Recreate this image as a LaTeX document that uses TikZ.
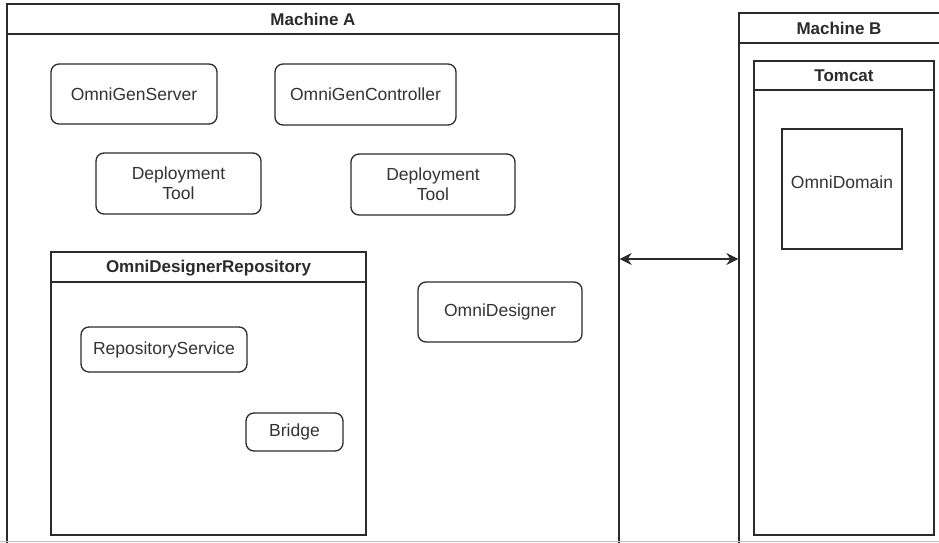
\documentclass[tikz,border=0pt]{standalone}
\usepackage{fontspec}
\setmainfont{Liberation Sans}
\usetikzlibrary{arrows.meta}
\definecolor{linec}{HTML}{2B2B2B}
\definecolor{textc}{HTML}{333333}
\tikzset{
  comp/.style={draw=linec, line width=1.3pt, rounded corners=8pt, fill=white,
    text=textc, font=\fontsize{17.5pt}{20pt}\selectfont, align=center, inner sep=0pt},
  cont/.style={draw=linec, line width=1.3pt, inner sep=0pt},
  ttl/.style={font=\bfseries\fontsize{17pt}{20pt}\selectfont, text=linec, inner sep=0pt},
  plain/.style={draw=linec, line width=1.3pt, text=textc,
    font=\fontsize{17.5pt}{20pt}\selectfont, inner sep=0pt},
}
\begin{document}
\begin{tikzpicture}[x=1pt,y=-1pt]
\useasboundingbox (0,0) rectangle (939,543);
\clip (0,0) rectangle (939,543);
\fill[white] (0,0) rectangle (939,543);
% Machine A
\node[cont, minimum width=612pt, minimum height=545pt] (ma) at (313,276.5) {};
\coordinate (mah1) at (7,34);
\coordinate (mah2) at (619,34);
\draw[linec, line width=1.3pt] (mah1) -- (mah2);
\node[ttl] (mat) at (313,19.5) {Machine A};
% Machine B
\node[cont, minimum width=210pt, minimum height=540pt] (mb) at (844,283) {};
\coordinate (mbh1) at (739,43);
\coordinate (mbh2) at (949,43);
\draw[linec, line width=1.3pt] (mbh1) -- (mbh2);
\node[ttl] (mbt) at (839,28) {Machine B};
% Tomcat
\node[cont, minimum width=180pt, minimum height=474pt] (tc) at (844,298) {};
\coordinate (tch1) at (754,90);
\coordinate (tch2) at (934,90);
\draw[linec, line width=1.3pt] (tch1) -- (tch2);
\node[ttl] (tct) at (844,76) {Tomcat};
% OmniDomain
\node[plain, minimum width=120pt, minimum height=120pt] (od) at (842,189) {};
\node[text=textc, font=\fontsize{17.5pt}{20pt}\selectfont, inner sep=0pt] (odt) at (842,182) {OmniDomain};
% Machine A contents
\node[comp, minimum width=166pt, minimum height=60pt] (ogs) at (134,94) {OmniGenServer};
\node[comp, minimum width=181pt, minimum height=61pt] (ogc) at (365.5,94.5) {OmniGenController};
\node[comp, minimum width=165pt, minimum height=61pt] (dt1) at (178.5,183.5) {Deployment\\Tool};
\node[comp, minimum width=164pt, minimum height=61pt] (dt2) at (433,184.5) {Deployment\\Tool};
\node[comp, minimum width=164pt, minimum height=60pt] (odes) at (500,312) {OmniDesigner};
% Repository container
\node[cont, minimum width=315pt, minimum height=283pt] (odr) at (208.5,393.5) {};
\coordinate (odrh1) at (51,282);
\coordinate (odrh2) at (366,282);
\draw[linec, line width=1.3pt] (odrh1) -- (odrh2);
\node[ttl] (odrt) at (208.5,268) {OmniDesignerRepository};
\node[comp, minimum width=166pt, minimum height=45pt] (rs) at (164,349.5) {RepositoryService};
\node[comp, minimum width=97pt, minimum height=38pt] (br) at (294.5,432) {Bridge};
% connector
\draw[linec, line width=1.4pt, {Stealth[length=12pt,width=12pt,inset=4pt]}-{Stealth[length=12pt,width=12pt,inset=4pt]}]
  (ma.east |- 0,259) -- (mb.west |- 0,259);
% bottom edge line
\coordinate (bl1) at (0,541.5);
\coordinate (bl2) at (939,541.5);
\draw[gray!50, line width=0.8pt] (bl1) -- (bl2);
\end{tikzpicture}
\end{document}
